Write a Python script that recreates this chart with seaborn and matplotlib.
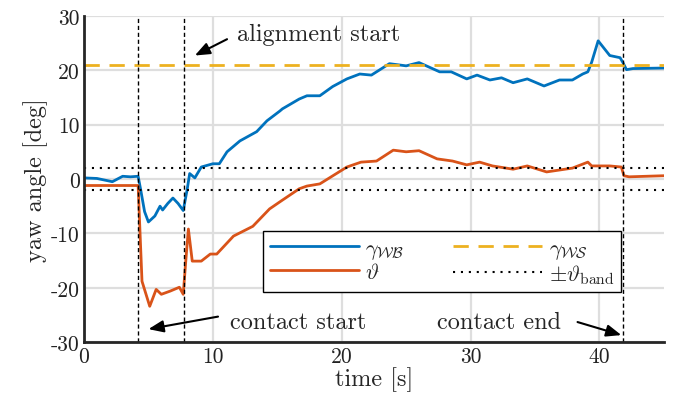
import matplotlib
matplotlib.use("Agg")
import matplotlib.pyplot as plt
import seaborn as sns
import pandas as pd
from matplotlib.lines import Line2D

# ---- data ----
t_blue = [0, 1.0, 2.2, 3.0, 3.6, 4.2, 4.4, 4.7, 5.0, 5.5, 5.9, 6.1, 6.5, 6.9, 7.3, 7.7, 8.0, 8.2, 8.6, 9.1, 10.0, 10.5, 11.1, 12.1, 13.4, 14.2, 15.2, 15.4, 16.7, 17.3, 18.3, 19.3, 20.4, 21.4, 22.3, 23.7, 25.0, 26.0, 27.6, 28.5, 29.7, 30.5, 31.5, 32.4, 33.3, 34.4, 35.7, 36.9, 37.9, 38.7, 39.1, 39.4, 39.9, 40.2, 40.8, 41.6, 41.8, 42.1, 42.6, 45.0]
y_blue = [0.2, 0.1, -0.5, 0.5, 0.4, 0.5, -2.0, -6.0, -7.9, -6.8, -5.0, -5.7, -4.5, -3.5, -4.5, -5.8, -2.0, 1.0, 0.2, 2.2, 2.8, 2.8, 5.0, 7.0, 8.7, 10.7, 12.5, 12.9, 14.7, 15.3, 15.3, 17.0, 18.4, 19.3, 19.1, 21.2, 20.8, 21.4, 19.7, 19.7, 18.4, 19.1, 18.2, 18.6, 17.7, 18.4, 17.1, 18.2, 18.2, 19.3, 19.7, 21.5, 25.4, 24.5, 22.7, 22.3, 21.5, 20.1, 20.3, 20.4]

t_or = [0, 4.2, 4.35, 4.5, 5.1, 5.6, 6.0, 6.7, 7.4, 7.7, 7.9, 8.1, 8.4, 9.1, 9.8, 10.3, 11.6, 13.1, 14.4, 15.2, 16.7, 17.3, 18.3, 20.4, 21.5, 22.7, 24.0, 25.0, 26.0, 27.4, 28.6, 29.7, 30.7, 31.7, 33.3, 34.4, 35.9, 37.9, 39.1, 39.4, 40.8, 41.7, 41.9, 42.3, 45.0]
y_or = [-1.2, -1.2, -10.0, -18.8, -23.4, -20.3, -21.2, -20.6, -19.9, -21.2, -15.0, -9.2, -15.1, -15.1, -13.8, -13.8, -10.5, -8.7, -5.5, -4.2, -1.8, -1.3, -0.9, 2.2, 3.1, 3.3, 5.3, 5.0, 5.2, 3.7, 3.3, 2.6, 3.1, 2.4, 1.8, 2.4, 1.3, 2.0, 3.1, 2.4, 2.4, 2.2, 0.6, 0.4, 0.6]

gamma_ws = 21.0
theta_band = 2.0
events = [4.2, 7.75, 41.8]
x_ticks = [0, 10, 20, 30, 40]
y_ticks = [-30, -20, -10, 0, 10, 20, 30]

# annotation texts
note_texts = ["alignment start", "contact start", "contact end"]

# ---- style ----
sns.set_style("whitegrid")
plt.rcParams["font.family"] = ["cmr10", "DejaVu Serif"]
plt.rcParams["mathtext.fontset"] = "cm"
plt.rcParams["axes.unicode_minus"] = False
plt.rcParams["axes.formatter.use_mathtext"] = False

blue = "#0072BD"
orange = "#D95319"
yellow = "#EDB120"
LW = 2.0

fig = plt.figure(figsize=(6.83, 4.10), dpi=100)
ax = fig.add_axes([0.123, 0.163, 0.849, 0.796])

df = pd.concat([
    pd.DataFrame({"t": t_blue, "y": y_blue, "s": "gwb"}),
    pd.DataFrame({"t": t_or, "y": y_or, "s": "theta"}),
])
sns.lineplot(data=df, x="t", y="y", hue="s", palette=[blue, orange],
             linewidth=LW, ax=ax, legend=False, sort=False, estimator=None)

ax.axhline(gamma_ws, color=yellow, lw=LW, ls=(0, (5.5, 3.5)))
ax.axhline(theta_band, color="black", lw=1.5, ls=(0, (1, 2.8)))
ax.axhline(-theta_band, color="black", lw=1.5, ls=(0, (1, 2.8)))
for e in events:
    ax.axvline(e, color="black", lw=1.0, ls=(0, (3, 2)))

ax.set_xlim(0, 45)
ax.set_ylim(-30, 30)
ax.set_xticks(x_ticks)
ax.set_yticks(y_ticks)
ax.grid(True, color="#dedede", lw=1.6)
for s in ["top", "right"]:
    ax.spines[s].set_visible(False)
for s in ["left", "bottom"]:
    ax.spines[s].set_color("#262626")
    ax.spines[s].set_linewidth(2.0)
ax.tick_params(direction="in", length=5, width=1.5, labelsize=15.5, colors="#262626",
               labelcolor="#222222", pad=3)
ax.set_xlabel("time [s]", fontsize=17.5, labelpad=0)
ax.set_ylabel("yaw angle [deg]", fontsize=17.5, labelpad=2)

handles = [
    Line2D([], [], color=blue, lw=LW),
    Line2D([], [], color=orange, lw=LW),
    Line2D([], [], color=yellow, lw=LW, ls=(0, (5.5, 3.5))),
    Line2D([], [], color="black", lw=1.5, ls=(0, (1, 2.8))),
]
labels = [r"$\gamma_{\mathcal{WB}}$", r"$\vartheta$", r"$\gamma_{\mathcal{WS}}$",
          r"$\pm\vartheta_{\mathrm{band}}$"]
leg = ax.legend(handles, labels, ncol=2, loc="lower left",
                bbox_to_anchor=(0.3086, 0.153, 0.6172, 0.2), borderaxespad=0,
                mode="expand", frameon=True, fancybox=False, edgecolor="black", framealpha=1,
                fontsize=16, handlelength=4.0, handletextpad=0.3, columnspacing=1.0,
                borderpad=0.3, labelspacing=0.05)
leg.get_frame().set_linewidth(1.0)

arrow = dict(arrowstyle="-|>,head_length=0.75,head_width=0.3", color="black", lw=1.5,
             mutation_scale=12, shrinkA=0, shrinkB=0)
# text labels
ax.text(11.9, 26.7, note_texts[0], fontsize=17.5, va="center", ha="left")
ax.text(11.3, -26.3, note_texts[1], fontsize=17.5, va="center", ha="left")
ax.text(27.4, -26.3, note_texts[2], fontsize=17.5, va="center", ha="left")
# arrows
ax.annotate("", xy=(8.6, 22.7), xytext=(11.1, 25.7), arrowprops=arrow)
ax.annotate("", xy=(5.0, -27.6), xytext=(10.4, -25.3), arrowprops=arrow)
ax.annotate("", xy=(41.7, -28.7), xytext=(38.3, -26.3), arrowprops=arrow)

fig.savefig("out.png", dpi=100)
